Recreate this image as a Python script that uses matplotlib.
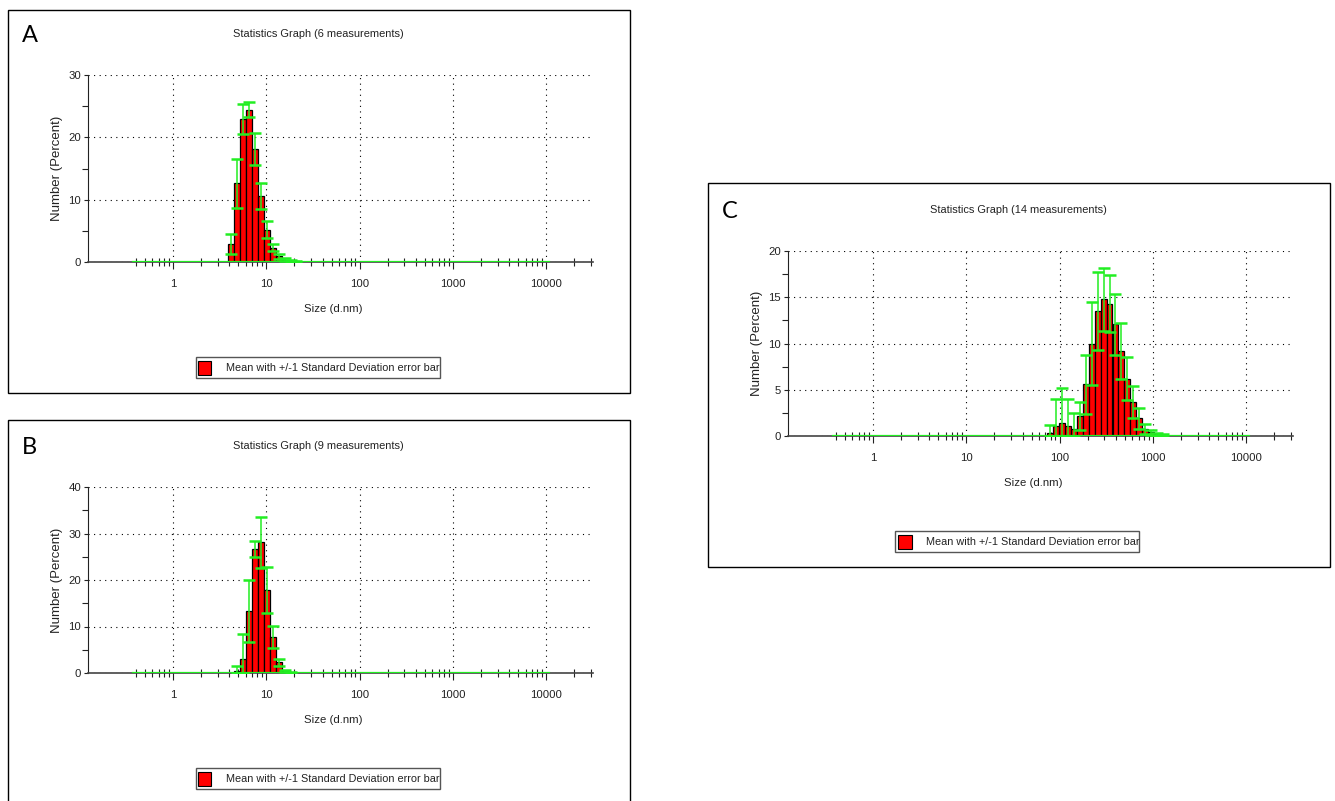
import matplotlib
matplotlib.use('Agg')
import matplotlib.pyplot as plt
from matplotlib.patches import Rectangle
from matplotlib.ticker import FixedLocator, NullFormatter

plt.rcParams['font.family'] = ['Liberation Sans', 'DejaVu Sans']

W, H = 1335, 801

# Zetasizer size bins (d.nm) used by each panel
sizes_a = [4.187, 4.849, 5.615, 6.503, 7.531, 8.721, 10.1, 11.7, 13.54, 15.69, 18.17, 21.04]
mean_a = [2.9, 12.6, 23.0, 24.4, 18.1, 10.6, 5.2, 2.3, 0.9, 0.4, 0.2, 0.1]
sd_a = [1.6, 4.0, 2.4, 1.2, 2.6, 2.1, 1.3, 0.6, 0.4, 0.2, 0.15, 0.1]

sizes_b = [4.849, 5.615, 6.503, 7.531, 8.721, 10.1, 11.7, 13.54, 15.69, 18.17]
mean_b = [0.5, 3.1, 13.3, 26.6, 28.1, 17.8, 7.7, 2.3, 0.4, 0.1]
sd_b = [1.1, 5.2, 6.7, 1.7, 5.5, 4.9, 2.4, 0.75, 0.2, 0.1]

sizes_c = [78.82, 91.28, 105.7, 122.4, 141.8, 164.2, 190.1, 220.2, 255.0, 295.3,
           342.0, 396.1, 458.7, 531.2, 615.1, 712.4, 825.0, 955.4, 1106, 1281]
mean_c = [0.3, 1.1, 1.4, 1.1, 0.8, 2.2, 5.6, 10.0, 13.5, 14.8,
          14.3, 12.1, 9.2, 6.2, 3.7, 1.9, 0.8, 0.4, 0.2, 0.1]
sd_c = [0.9, 2.9, 3.8, 2.9, 1.7, 1.5, 3.2, 4.5, 4.2, 3.4,
        3.1, 3.3, 3.0, 2.35, 1.75, 1.1, 0.55, 0.3, 0.15, 0.1]

size_range = [0.37, 10750]
x_ticks = [1, 10, 100, 1000, 10000]
x_ticklabels = ['1', '10', '100', '1000', '10000']

panels = [
    # letter, title, sizes, mean, sd, ymax, ystep, box, axes rect (px)
    ('A', 'Statistics Graph (6 measurements)', sizes_a, mean_a, sd_a, 30, 10,
     (8, 10, 630, 393), (88, 75, 593, 262)),
    ('B', 'Statistics Graph (9 measurements)', sizes_b, mean_b, sd_b, 40, 10,
     (8, 420, 630, 810), (88, 487, 593, 673)),
    ('C', 'Statistics Graph (14 measurements)', sizes_c, mean_c, sd_c, 20, 5,
     (708, 183, 1330, 567), (788, 251, 1293, 436)),
]


def fx(x):
    return x / W


def fy(y):
    return 1 - y / H


fig = plt.figure(figsize=(W / 100, H / 100), dpi=100)

r = 1.1579 ** 0.5
for letter, title, sizes, mean, sd, ymax, ystep, box, rect in panels:
    bx0, by0, bx1, by1 = box
    fig.add_artist(Rectangle((fx(bx0), fy(by1)), fx(bx1 - bx0), (by1 - by0) / H,
                             transform=fig.transFigure, fill=False,
                             edgecolor='black', lw=1.0))
    l, t, rr, b = rect
    ax = fig.add_axes([fx(l), fy(b), fx(rr - l), (b - t) / H])

    lefts = [s / r for s in sizes]
    widths = [s * r - s / r for s in sizes]
    ax.bar(lefts, mean, width=widths, align='edge', color='#ff0000',
           edgecolor='black', linewidth=0.9, zorder=2)
    ax.plot(size_range, [0, 0], color='#22ee22', lw=1.6, zorder=3)
    low = [min(s, m) for s, m in zip(sd, mean)]
    _, caps, bars = ax.errorbar(sizes, mean, yerr=[low, sd], fmt='none',
                                ecolor='#22ee22', elinewidth=1.1,
                                capsize=4.3, capthick=1.8, zorder=4)
    for c in caps:
        c.set_color('#70f070')

    ax.set_xscale('log')
    ax.set_xlim(10 ** -0.911, 10 ** 4.5)
    ax.set_ylim(0, ymax)
    ax.set_xticks(x_ticks)
    ax.set_xticklabels(x_ticklabels)
    minor = [m * 10.0 ** e for e in range(-1, 5) for m in range(2, 10)
             if m * 10.0 ** e >= 0.4]
    ax.xaxis.set_minor_locator(FixedLocator(minor))
    ax.xaxis.set_minor_formatter(NullFormatter())
    ax.set_yticks(range(0, ymax + 1, ystep))
    ax.yaxis.set_minor_locator(FixedLocator([v + ystep / 2 for v in range(0, ymax, ystep)]))

    ax.tick_params(axis='x', which='major', direction='out', length=5, width=0.8,
                   labelsize=8.2, pad=7, colors='#222222')
    ax.tick_params(axis='x', which='minor', direction='inout', length=6, width=0.8,
                   colors='#222222')
    ax.tick_params(axis='y', which='major', direction='out', length=3, width=0.8,
                   labelsize=8.2, pad=2, colors='#222222')
    ax.tick_params(axis='y', which='minor', direction='out', length=4, width=0.8,
                   colors='#222222')

    ax.grid(True, which='major', linestyle=(0, (1, 4)), color='black', lw=0.8)
    for side in ('top', 'right'):
        ax.spines[side].set_visible(False)
    ax.spines['left'].set_color('#222222')
    ax.spines['bottom'].set_color('#444444')
    ax.spines['bottom'].set_linewidth(1.2)
    ax.set_facecolor('none')

    cx = (l + rr) / 2
    fig.text(fx(bx0 + 14), fy(t - 40), letter, fontsize=17, family=['Lato', 'DejaVu Sans'],
             ha='left', va='center')
    fig.text(fx(cx - 22), fy(t - 41), title, fontsize=7.9, ha='center', va='center',
             color='#222222')
    fig.text(fx(cx - 7), fy(b + 47), 'Size (d.nm)', fontsize=8.2, ha='center', va='center',
             color='#222222')
    fig.text(fx(l - 31), fy((t + b) / 2), 'Number (Percent)', fontsize=9.5,
             rotation=90, ha='center', va='center', color='#222222')

    # legend box
    lx0, ly0 = cx - 145, b + 95
    fig.add_artist(Rectangle((fx(lx0), fy(ly0 + 21)), fx(244), 21 / H,
                             transform=fig.transFigure, facecolor='white',
                             edgecolor='#555555', lw=1.0))
    fig.add_artist(Rectangle((fx(lx0 + 2), fy(ly0 + 18)), fx(14), 14 / H,
                             transform=fig.transFigure, facecolor='#ff0000',
                             edgecolor='black', lw=0.8))
    fig.text(fx(lx0 + 30), fy(ly0 + 11), 'Mean with +/-1 Standard Deviation error bar',
             fontsize=7.8, ha='left', va='center', color='#222222')

fig.savefig('out.png', dpi=100, facecolor='white')
